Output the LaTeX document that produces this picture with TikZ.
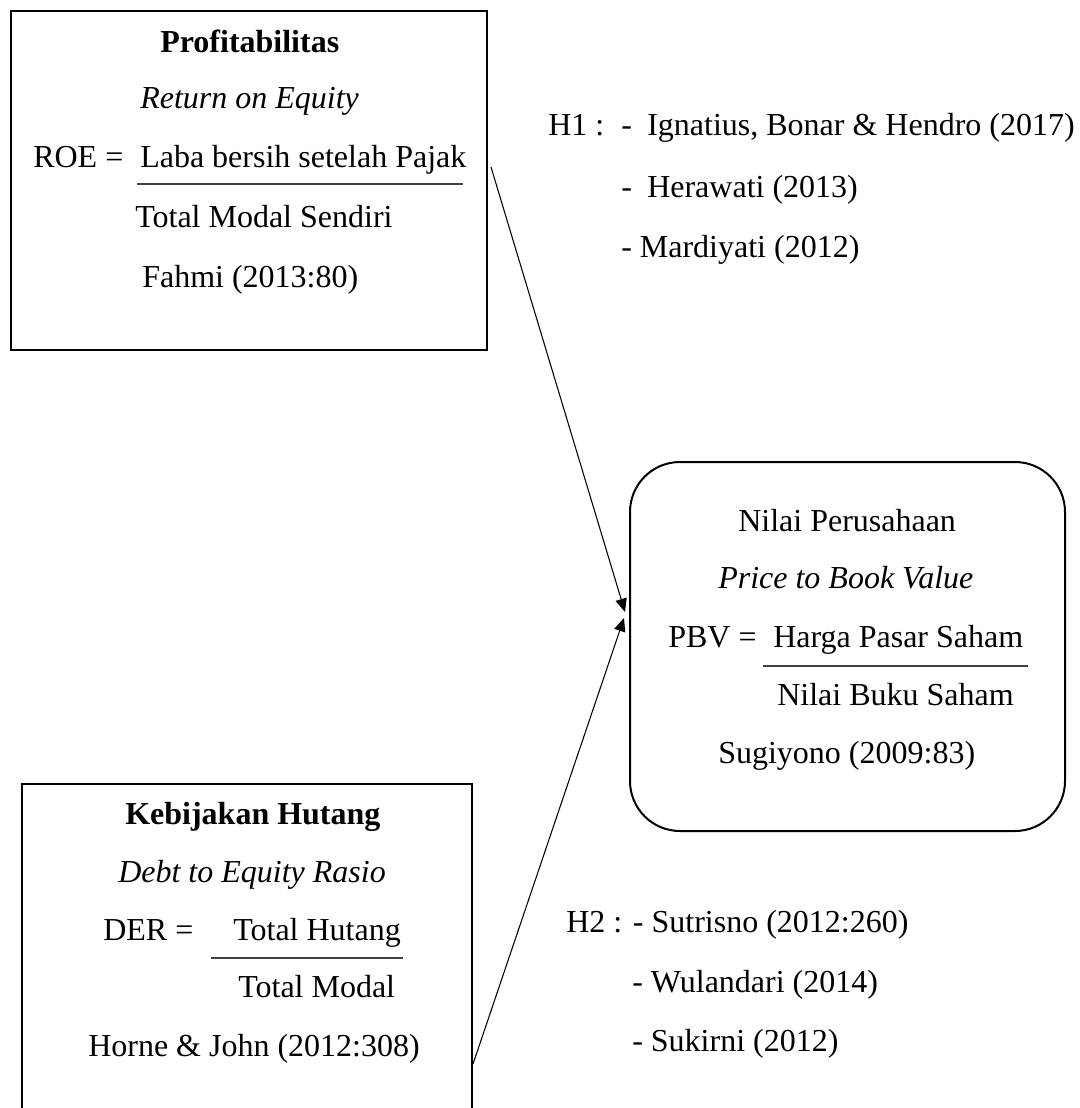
\documentclass[tikz,border=0pt]{standalone}
\usepackage{fontspec}
\setmainfont{Liberation Serif}
\usetikzlibrary{arrows.meta,fit}
\begin{document}
\begin{tikzpicture}[x=0.75pt,y=-0.75pt,
  font=\fontsize{24}{28}\selectfont,
  txt/.style={anchor=base west, inner sep=0pt},
  boxframe/.style={draw, line width=1.5pt, inner sep=0pt},
  fracline/.style={line width=1pt, black!75},
  arr/.style={line width=0.8pt, -{Triangle[length=10pt,width=8.5pt]}}]
\clip (0,0) rectangle (1080,1108);
\fill[white] (0,0) rectangle (1080,1108);

% boxes
\node[boxframe, fit={(11,11) (487,350)}] (b1) {};
\node[boxframe, fit={(22,784) (472,1140)}] (b2) {};
\node[boxframe, rounded corners=37.5pt, fit={(630,462) (1065,831)}] (b3) {};

% box 1 text
\node[txt, font=\fontsize{24}{28}\selectfont\bfseries] (t1a) at (160,52) {Profitabilitas};
\node[txt, font=\fontsize{24}{28}\selectfont\itshape] (t1b) at (140,108) {Return on Equity};
\node[txt] (t1c) at (33,167) {ROE =};
\node[txt] (t1d) at (140,167) {Laba bersih setelah Pajak};
\draw[fracline] (137,184) -- (463,184);
\node[txt] (t1e) at (135,227) {Total Modal Sendiri};
\node[txt] (t1f) at (142,287) {Fahmi (2013:80)};

% box 2 text
\node[txt, font=\fontsize{24}{28}\selectfont\bfseries] (t2a) at (125,824) {Kebijakan Hutang};
\node[txt, font=\fontsize{24}{28}\selectfont\itshape] (t2b) at (118,882) {Debt to Equity Rasio};
\node[txt] (t2c) at (103,940) {DER =};
\node[txt] (t2d) at (233,940) {Total Hutang};
\draw[fracline] (211,958) -- (403,958);
\node[txt] (t2e) at (238,997) {Total Modal};
\node[txt] (t2f) at (88,1056) {Horne \& John (2012:308)};

% box 3 text
\node[txt] (t3a) at (738,531) {Nilai Perusahaan};
\node[txt, font=\fontsize{24}{28}\selectfont\itshape] (t3b) at (718,588) {Price to Book Value};
\node[txt] (t3c) at (668,647) {PBV =};
\node[txt] (t3d) at (773,647) {Harga Pasar Saham};
\draw[fracline] (763,666) -- (1028,666);
\node[txt] (t3e) at (777,705) {Nilai Buku Saham};
\node[txt] (t3f) at (718,763) {Sugiyono (2009:83)};

% H1
\node[txt] (h1a) at (548,135) {H1 :};
\node[txt] (h1b) at (621,135) {-};
\node[txt] (h1c) at (647,135) {Ignatius, Bonar \& Hendro (2017)};
\node[txt] (h1d) at (621,197) {-};
\node[txt] (h1e) at (647,197) {Herawati (2013)};
\node[txt] (h1f) at (621,257) {- Mardiyati (2012)};

% H2
\node[txt] (h2a) at (566,932) {H2 : - Sutrisno (2012:260)};
\node[txt] (h2b) at (632,992) {- Wulandari (2014)};
\node[txt] (h2c) at (632,1051) {- Sukirni (2012)};

% connectors
\coordinate (s1) at (491,167);
\coordinate (e1) at (625,612);
\coordinate (s2) at (473,1064);
\coordinate (e2) at (624,618);
\draw[arr] (s1) -- (e1);
\draw[arr] (s2) -- (e2);
\end{tikzpicture}
\end{document}
